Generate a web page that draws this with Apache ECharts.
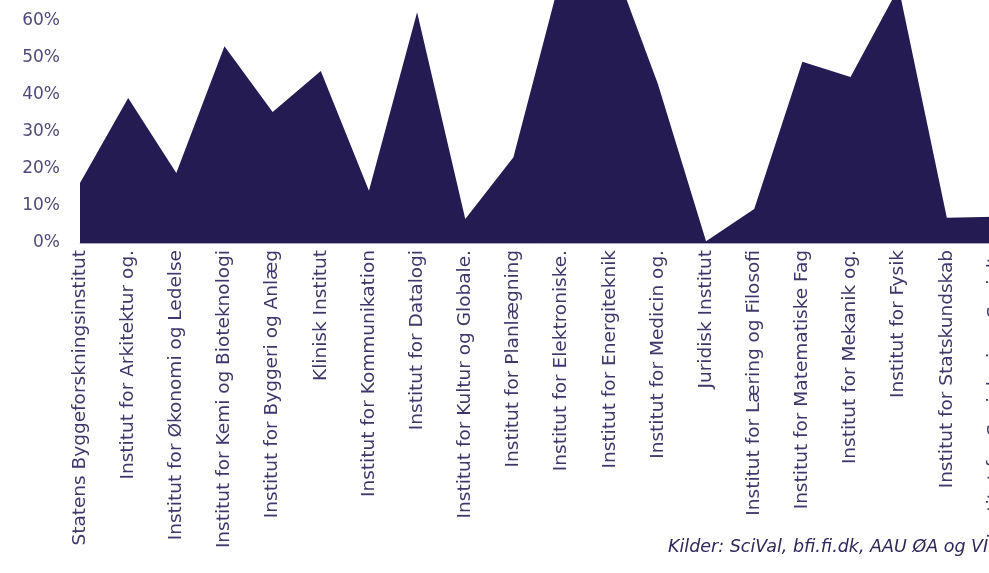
<!DOCTYPE html>
<html>
<head>
<meta charset="utf-8">
<script src="https://cdn.jsdelivr.net/npm/echarts@6/dist/echarts.min.js"></script>
<style>
html,body{margin:0;padding:0;background:#fff;overflow:hidden;width:989px;height:573px;}
#chart{width:1010px;height:573px;}
</style>
</head>
<body>
<div id="chart"></div>
<script>
const categories = [
  "Statens Byggeforskningsinstitut",
  "Institut for Arkitektur og.",
  "Institut for Økonomi og Ledelse",
  "Institut for Kemi og Bioteknologi",
  "Institut for Byggeri og Anlæg",
  "Klinisk Institut",
  "Institut for Kommunikation",
  "Institut for Datalogi",
  "Institut for Kultur og Globale.",
  "Institut for Planlægning",
  "Institut for Elektroniske.",
  "Institut for Energiteknik",
  "Institut for Medicin og.",
  "Juridisk Institut",
  "Institut for Læring og Filosofi",
  "Institut for Matematiske Fag",
  "Institut for Mekanik og.",
  "Institut for Fysik",
  "Institut for Statskundskab",
  "Institut for Sociologi og Socialt."
];
const values = [16.2, 39.2, 18.9, 53.2, 35.4, 46.5, 14.1, 62.4, 6.5, 23.2, 73, 78, 43, 0.5, 9.2, 49, 44.9, 69, 6.8, 7.1];
const yTicks = [0, 10, 20, 30, 40, 50, 60];
const sourceText = "Kilder: SciVal, bfi.fi.dk, AAU ØA og VIP-opgørelser";

const chart = echarts.init(document.getElementById('chart'), null, {renderer: 'canvas'});
chart.setOption({
  animation: false,
  backgroundColor: '#ffffff',
  grid: {left: 80, right: 15, top: 0, bottom: 330, containLabel: false},
  xAxis: {
    type: 'category',
    data: categories,
    boundaryGap: false,
    axisLine: {show: true, lineStyle: {color: '#a9a6c4', width: 1}},
    axisTick: {show: false},
    axisLabel: {
      rotate: 90, interval: 0, margin: 7,
      color: '#3d3869', fontFamily: 'DejaVu Sans', fontSize: 18.5
    }
  },
  yAxis: {
    type: 'value',
    min: 0, max: 65.68, interval: 10,
    axisLine: {show: false},
    axisTick: {show: false},
    splitLine: {show: false},
    axisLabel: {
      formatter: v => (yTicks.indexOf(v) >= 0 ? v + '%' : ''),
      showMaxLabel: false, margin: 20,
      color: '#4f4a78', fontFamily: 'DejaVu Sans', fontSize: 17
    }
  },
  series: [{
    type: 'line',
    data: values,
    showSymbol: false,
    symbol: 'none',
    clip: true,
    lineStyle: {width: 0},
    areaStyle: {color: '#231b52', opacity: 1},
    itemStyle: {color: '#231b52'}
  }],
  graphic: [{
    type: 'text', left: 668, top: 538,
    style: {text: sourceText, fill: '#2d2859', font: 'oblique 17.5px "DejaVu Sans"'}
  }]
});
</script>
</body>
</html>
